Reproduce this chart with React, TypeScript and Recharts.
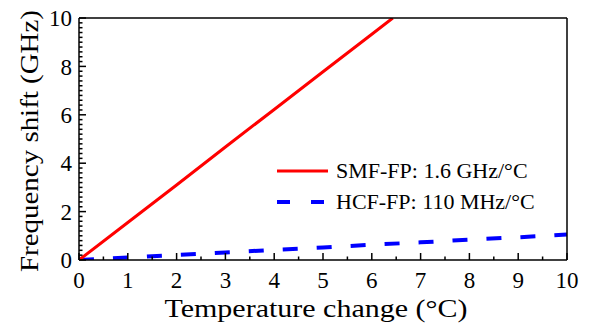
import React from "react";
import { LineChart, Line, XAxis, YAxis, Label } from "recharts";

const smfX = [0, 1, 2, 3, 4, 5, 6, 6.43];
const smfY = [0, 1.55, 3.1, 4.67, 6.22, 7.78, 9.33, 10];
const hcfX = [0, 1, 2, 3, 4, 5, 6, 7, 8, 9, 10];
const hcfY = [0, 0.1, 0.21, 0.31, 0.42, 0.52, 0.63, 0.73, 0.84, 0.94, 1.05];
const xTicks = [0, 0.5, 1, 1.5, 2, 2.5, 3, 3.5, 4, 4.5, 5, 5.5, 6, 6.5, 7, 7.5, 8, 8.5, 9, 9.5, 10];
const yTicks = [0, 0.2, 0.4, 0.6, 0.8, 1, 1.2, 1.4, 1.6, 1.8, 2, 2.2, 2.4, 2.6, 2.8, 3, 3.2, 3.4, 3.6, 3.8, 4, 4.2, 4.4, 4.6, 4.8, 5, 5.2, 5.4, 5.6, 5.8, 6, 6.2, 6.4, 6.6, 6.8, 7, 7.2, 7.4, 7.6, 7.8, 8, 8.2, 8.4, 8.6, 8.8, 9, 9.2, 9.4, 9.6, 9.8, 10];
const seriesNames = ["SMF-FP: 1.6 GHz/°C", "HCF-FP: 110 MHz/°C"];
const xLabel = "Temperature change (°C)";
const yLabel = "Frequency shift (GHz)";

const smfData = smfX.map((x, i) => ({ x, y: smfY[i] }));
const hcfData = hcfX.map((x, i) => ({ x, y: hcfY[i] }));

const FONT = "'Liberation Serif', serif";
const RED = "#ff0000";
const BLUE = "#0000ff";

const isMult = (v: number, m: number) => Math.abs(v - Math.round(v / m) * m) < 1e-6;

const XTick = (props: any) => {
  const { x, y, payload } = props;
  const v = payload.value;
  const major = isMult(v, 1);
  const axisY = y - 12;
  return (
    <g>
      <line x1={x} x2={x} y1={axisY} y2={axisY - (major ? 7 : 3.5)} stroke="#000" strokeWidth={1.5} />
      {major && (
        <text x={x} y={y} dy="0.71em" textAnchor="middle" fontFamily={FONT} fontSize={23} fill="#000">
          {String(v)}
        </text>
      )}
    </g>
  );
};

const YTick = (props: any) => {
  const { x, y, payload } = props;
  const v = payload.value;
  const major = isMult(v, 2);
  const axisX = x + 7;
  return (
    <g>
      <line x1={axisX} x2={axisX + (major ? 7 : 3.5)} y1={y} y2={y} stroke="#000" strokeWidth={1.5} />
      {major && (
        <text x={x} y={y} dy="0.36em" textAnchor="end" fontFamily={FONT} fontSize={23} fill="#000">
          {String(Math.round(v))}
        </text>
      )}
    </g>
  );
};

const LegendBox = () => (
  <div style={{ position: "absolute", left: 277, top: 155, fontFamily: FONT, fontSize: 22, color: "#000", lineHeight: "31px" }}>
    <div style={{ display: "flex", alignItems: "center", whiteSpace: "nowrap" }}>
      <svg width={59} height={10}>
        <line x1={0} x2={51} y1={5} y2={5} stroke={RED} strokeWidth={3} />
      </svg>
      <span>{seriesNames[0]}</span>
    </div>
    <div style={{ display: "flex", alignItems: "center", whiteSpace: "nowrap" }}>
      <svg width={59} height={10}>
        <line x1={0} x2={51} y1={5} y2={5} stroke={BLUE} strokeWidth={4} strokeDasharray="13 21" />
      </svg>
      <span>{seriesNames[1]}</span>
    </div>
  </div>
);

export default function App() {
  return (
    <div style={{ position: "fixed", left: 0, top: 0, width: 597, height: 324, background: "#fff" }}>
      <LineChart width={597} height={324} margin={{ top: 17, right: 29, bottom: 0, left: 78 }}>
        <XAxis
          xAxisId="b"
          type="number"
          dataKey="x"
          domain={[0, 10]}
          ticks={xTicks}
          interval={0}
          tickSize={0}
          tickMargin={12}
          tick={<XTick />}
          axisLine={{ stroke: "#000", strokeWidth: 1.5 }}
          height={64}
          allowDataOverflow
        >
          <Label
            content={(p: any) => {
              const vb = p.viewBox;
              return (
                <text x={vb.x + vb.width / 2 - 7} y={vb.y + 57} textAnchor="middle" fontFamily={FONT} fontSize={26} fill="#000" textLength={303} lengthAdjust="spacingAndGlyphs">
                  {xLabel}
                </text>
              );
            }}
          />
        </XAxis>
        <XAxis xAxisId="t" orientation="top" type="number" domain={[0, 10]} height={1} tick={false} tickLine={false} axisLine={{ stroke: "#000", strokeWidth: 1.5 }} />
        <YAxis
          yAxisId="l"
          type="number"
          domain={[0, 10]}
          ticks={yTicks}
          interval={0}
          tickSize={0}
          tickMargin={7}
          tick={<YTick />}
          width={1}
          axisLine={{ stroke: "#000", strokeWidth: 1.5 }}
          allowDataOverflow
        >
          <Label
            content={(p: any) => {
              const vb = p.viewBox;
              const cx = vb.x + vb.width - 50;
              const cy = vb.y + vb.height / 2 + 2;
              return (
                <text x={cx} y={cy} transform={`rotate(-90 ${cx} ${cy})`} dy="0.36em" textAnchor="middle" fontFamily={FONT} fontSize={26} fill="#000" textLength={262} lengthAdjust="spacingAndGlyphs">
                  {yLabel}
                </text>
              );
            }}
          />
        </YAxis>
        <YAxis yAxisId="r" orientation="right" type="number" domain={[0, 10]} width={1} tick={false} tickLine={false} axisLine={{ stroke: "#000", strokeWidth: 1.5 }} />
        <Line xAxisId="b" yAxisId="l" data={hcfData} dataKey="y" type="linear" stroke={BLUE} strokeWidth={4} strokeDasharray="15 19" dot={false} isAnimationActive={false} />
        <Line xAxisId="b" yAxisId="l" data={smfData} dataKey="y" type="linear" stroke={RED} strokeWidth={3} dot={false} isAnimationActive={false} />
      </LineChart>
      <LegendBox />
    </div>
  );
}
